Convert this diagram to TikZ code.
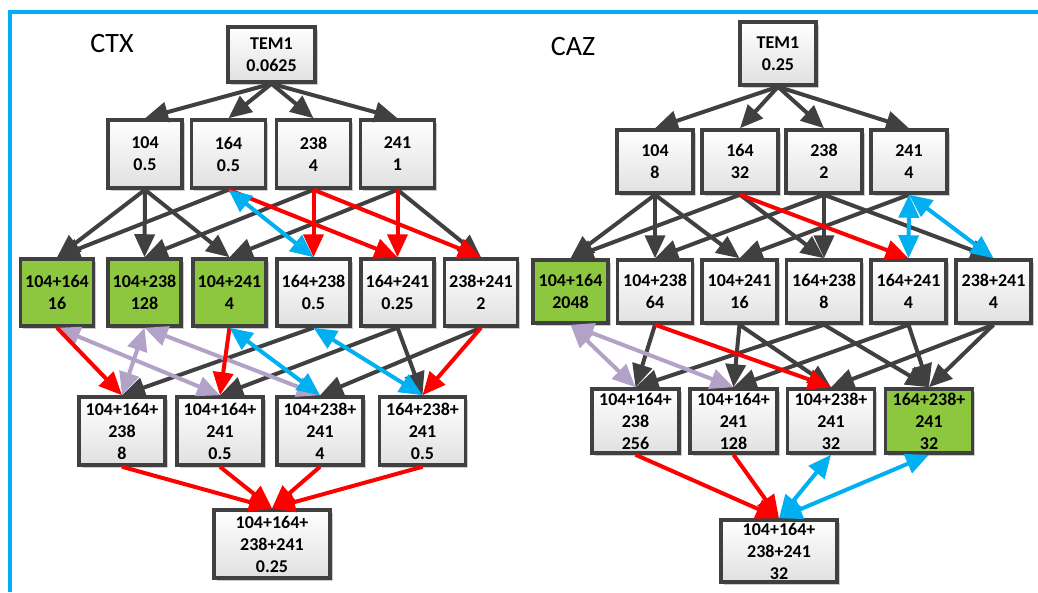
\documentclass[tikz,border=0pt]{standalone}
\usepackage{fontspec}
\setmainfont{Carlito}
\usetikzlibrary{arrows.meta,shadows}
\definecolor{boxgray}{HTML}{404040}
\definecolor{hitred}{HTML}{FF0000}
\definecolor{hitblue}{HTML}{00B0F0}
\definecolor{lavender}{HTML}{B3A2C7}
\definecolor{leaf}{HTML}{8DC63F}
\tikzset{
  box/.style={draw=boxgray, line width=3.5pt, top color=white, bottom color=black!12,
    align=center, inner sep=0pt, font=\bfseries\fontsize{18}{22}\selectfont,
    drop shadow={shadow xshift=2.5pt, shadow yshift=-2.5pt, opacity=0.2, fill=black}},
  gbox/.style={box, top color=leaf, bottom color=leaf},
  tip/.tip={Triangle[length=23pt, width=20pt]},
  arr/.style={-tip, line width=4pt, draw=boxgray},
  redarr/.style={-tip, line width=4pt, draw=hitred},
  bluearr/.style={tip-tip, line width=4pt, draw=hitblue},
  lavarr/.style={tip-tip, line width=4pt, draw=lavender},
  title/.style={font=\fontsize{28}{30}\selectfont}
}
\begin{document}
\begin{tikzpicture}[x=1pt, y=-1pt]
      \useasboundingbox (0,0) rectangle (1038,592);
      \draw[hitblue, line width=4pt] (10,592) -- (10,12) -- (1038,12);
      \draw
        (112,44) node[title] (ctx){CTX}
        (271.5,54.5) node[box, minimum width=87pt, minimum height=55pt] (ct){TEM1\\0.0625}
        (145,154) node[box, minimum width=74pt, minimum height=68pt] (c104){104\\0.5}
        (228.5,154) node[box, minimum width=74pt, minimum height=68pt] (c164){164\\0.5}
        (313.5,154) node[box, minimum width=74pt, minimum height=68pt] (c238){238\\4}
        (397.5,154) node[box, minimum width=74pt, minimum height=68pt] (c241){241\\1}
        (57,292.5) node[gbox, minimum width=73pt, minimum height=67pt] (c104164){104+164\\16}
        (144.5,292.5) node[gbox, minimum width=73pt, minimum height=67pt] (c104238){104+238\\128}
        (229.5,292.5) node[gbox, minimum width=73pt, minimum height=67pt] (c104241){104+241\\4}
        (313.5,292.5) node[box, minimum width=73pt, minimum height=67pt] (c164238){164+238\\0.5}
        (397.5,292.5) node[box, minimum width=73pt, minimum height=67pt] (c164241){164+241\\0.25}
        (481,292.5) node[box, minimum width=73pt, minimum height=67pt] (c238241){238+241\\2}
        (122,431) node[box, minimum width=86pt, minimum height=68pt] (c104164238){104+164+\\238\\8}
        (220,431) node[box, minimum width=86pt, minimum height=68pt] (c104164241){104+164+\\241\\0.5}
        (320,431) node[box, minimum width=86pt, minimum height=68pt] (c104238241){104+238+\\241\\4}
        (422.5,431) node[box, minimum width=86pt, minimum height=68pt] (c164238241){164+238+\\241\\0.5}
        (272,544) node[box, minimum width=116pt, minimum height=68pt] (call){104+164+\\238+241\\0.25};
      \draw
        (573,47) node[title] (caz){CAZ}
        (778,53.5) node[box, minimum width=76pt, minimum height=63pt] (zt){TEM1\\0.25}
        (655,161.5) node[box, minimum width=76pt, minimum height=63pt] (z104){104\\8}
        (740,161.5) node[box, minimum width=76pt, minimum height=63pt] (z164){164\\32}
        (824,161.5) node[box, minimum width=76pt, minimum height=63pt] (z238){238\\2}
        (909,161.5) node[box, minimum width=76pt, minimum height=63pt] (z241){241\\4}
        (570.5,291.5) node[gbox, minimum width=75pt, minimum height=63pt] (z104164){104+164\\2048}
        (655,291.5) node[box, minimum width=75pt, minimum height=63pt] (z104238){104+238\\64}
        (739.5,291.5) node[box, minimum width=75pt, minimum height=63pt] (z104241){104+241\\16}
        (824,291.5) node[box, minimum width=75pt, minimum height=63pt] (z164238){164+238\\8}
        (908.5,291.5) node[box, minimum width=75pt, minimum height=63pt] (z164241){164+241\\4}
        (993.5,291.5) node[box, minimum width=75pt, minimum height=63pt] (z238241){238+241\\4}
        (635.5,421) node[box, minimum width=87pt, minimum height=64pt] (z104164238){104+164+\\238\\256}
        (733.5,421) node[box, minimum width=87pt, minimum height=64pt] (z104164241){104+164+\\241\\128}
        (831,421) node[box, minimum width=87pt, minimum height=64pt] (z104238241){104+238+\\241\\32}
        (929,421) node[gbox, minimum width=87pt, minimum height=64pt] (z164238241){164+238+\\241\\32}
        (779,551) node[box, minimum width=116pt, minimum height=62pt] (zall){104+164+\\238+241\\32};
      \begin{scope}[arr]
        \draw (ct.south) to (c104.north);
        \draw (ct.south) to (c164.north);
        \draw (ct.south) to (c238.north);
        \draw (ct.south) to (c241.north);
        \draw (c104.south) to (c104164.north);
        \draw (c104.south) to (c104238.north);
        \draw (c104.south) to (c104241.north);
        \draw (c164.south) to (c104164.north);
        \draw (c238.south) to (c104238.north);
        \draw (c241.south) to (c104241.north);
        \draw (c241.south) to (c238241.north);
        \draw (c164238.south) to (c104164238.north);
        \draw (c164241.south) to (c104164241.north);
        \draw (c164241.south) to (c164238241.north);
        \draw (c238241.south) to (c104238241.north);
        \draw (zt.south) to (z104.north);
        \draw (zt.south) to (z164.north);
        \draw (zt.south) to (z238.north);
        \draw (zt.south) to (z241.north);
        \draw (z104.south) to (z104164.north);
        \draw (z104.south) to (z104238.north);
        \draw (z104.south) to (z104241.north);
        \draw (z164.south) to (z104164.north);
        \draw (z164.south) to (z164238.north);
        \draw (z238.south) to (z104238.north);
        \draw (z238.south) to (z164238.north);
        \draw (z238.south) to (z238241.north);
        \draw (z241.south) to (z104241.north);
        \draw (z104238.south) to (z104164238.north);
        \draw (z104241.south) to (z104164241.north);
        \draw (z104241.south) to (z104238241.north);
        \draw (z164238.south) to (z104164238.north);
        \draw (z164238.south) to (z164238241.north);
        \draw (z164241.south) to (z104164241.north);
        \draw (z164241.south) to (z164238241.north);
        \draw (z238241.south) to (z104238241.north);
        \draw (z238241.south) to (z164238241.north);
      \end{scope}
      \begin{scope}[lavarr]
        \draw (c104164.south) to (c104164241.north);
        \draw (c104238.south) to (c104164238.north);
        \draw (c104238.south) to (c104238241.north);
        \draw (z104164.south) to (z104164238.north);
        \draw (z104164.south) to (z104164241.north);
      \end{scope}
      \begin{scope}[redarr]
        \draw (c164.south) to (c164241.north);
        \draw (c238.south) to (c164238.north);
        \draw (c238.south) to (c238241.north);
        \draw (c241.south) to (c164241.north);
        \draw (c104164.south) to (c104164238.north);
        \draw (c104241.south) to (c104164241.north);
        \draw (c238241.south) to (c164238241.north);
        \draw (c104164238.south) to (call.north);
        \draw (c104164241.south) to (call.north);
        \draw (c104238241.south) to (call.north);
        \draw (c164238241.south) to (call.north);
        \draw (z164.south) to (z164241.north);
        \draw (z104238.south) to (z104238241.north);
        \draw (z104164238.south) to (zall.north);
        \draw (z104164241.south) to (zall.north);
      \end{scope}
      \begin{scope}[bluearr]
        \draw (c164.south) to (c164238.north);
        \draw (c104241.south) to (c104238241.north);
        \draw (c164238.south) to (c164238241.north);
        \draw (z241.south) to (z164241.north);
        \draw (z241.south) to (z238241.north);
        \draw (z104238241.south) to (zall.north);
        \draw (z164238241.south) to (zall.north);
      \end{scope}
    \end{tikzpicture}
\end{document}
